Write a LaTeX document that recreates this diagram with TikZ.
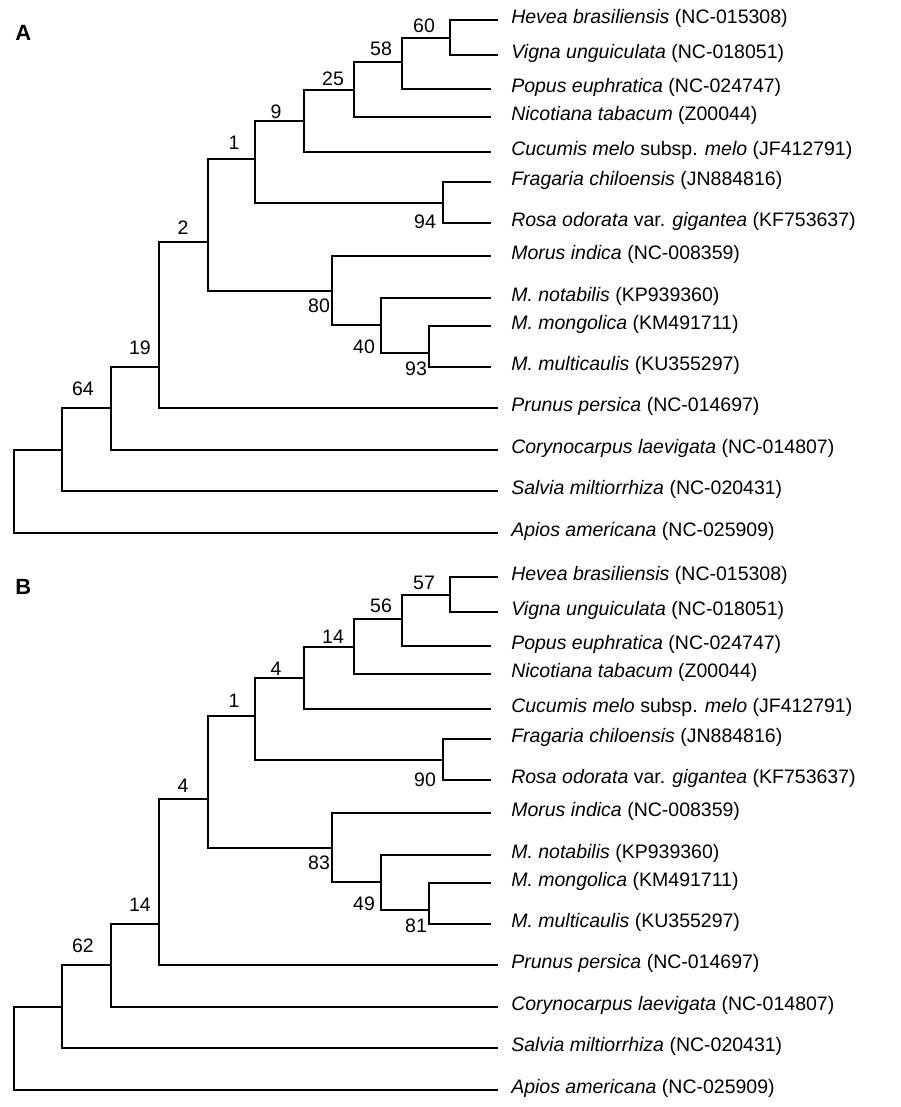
\documentclass[tikz,border=0pt]{standalone}
\usepackage{fontspec}
\setmainfont{Liberation Sans}
\begin{document}
\begin{tikzpicture}[x=1pt,y=-1pt,line width=2.6pt,
		panel/.style={anchor=base west,inner sep=0pt,font=\fontsize{22}{26}\selectfont\bfseries},
		tip/.style={anchor=base west,inner sep=0pt,font=\fontsize{19.5}{23}\selectfont},
		bs/.style={anchor=base,inner sep=0pt,font=\fontsize{19.5}{23}\selectfont}]
		\useasboundingbox (0,0) rectangle (900,1107);
		%==panel / shift / letter base / bootstrap values
		\foreach \p/\dy/\py/\la/\lb/\lc/\ld/\le/\lf/\lg/\lh/\li/\lj/\lk/\ll in {A/0/40.5/60/58/25/9/1/2/94/80/40/93/19/64,B/557/37/57/56/14/4/1/4/90/83/49/81/14/62}{
		\begin{scope}[yshift=-\dy pt]
		\node[panel] (p\p) at (14,\py) {\p};
		%==inner nodes
		\coordinate (rt\p) at (14,491);
		\coordinate (u1\p) at (62,450);
		\coordinate (u2\p) at (111,408);
		\coordinate (u3\p) at (159,367);
		\coordinate (u4\p) at (208,242);
		\coordinate (u5\p) at (255,159);
		\coordinate (u6\p) at (304,121);
		\coordinate (u7\p) at (354,90);
		\coordinate (u8\p) at (402,62);
		\coordinate (u9\p) at (450,38);
		\coordinate (u10\p) at (332,291);
		\coordinate (u11\p) at (443,203);
		\coordinate (u12\p) at (381,325);
		\coordinate (u13\p) at (429,353);
		%==tips
		\foreach \n/\lx/\ly/\t in {hev/498/20/{\textit{Hevea brasiliensis} (NC-015308)},
			vig/498/55/{\textit{Vigna unguiculata} (NC-018051)},
			pop/491/89/{\textit{Popus euphratica} (NC-024747)},
			nic/491/117/{\textit{Nicotiana tabacum} (Z00044)},
			cuc/491/152/{\textit{Cucumis melo} subsp. \textit{melo} (JF412791)},
			fra/491/182/{\textit{Fragaria chiloensis} (JN884816)},
			ros/491/223/{\textit{Rosa odorata} var. \textit{gigantea} (KF753637)},
			mor/491/256/{\textit{Morus indica} (NC-008359)},
			not/491/298/{\textit{M. notabilis} (KP939360)},
			mon/491/326/{\textit{M. mongolica} (KM491711)},
			mul/491/367/{\textit{M. multicaulis} (KU355297)},
			pru/498/408/{\textit{Prunus persica} (NC-014697)},
			cor/498/450/{\textit{Corynocarpus laevigata} (NC-014807)},
			sal/498/491/{\textit{Salvia miltiorrhiza} (NC-020431)},
			api/498/533/{\textit{Apios americana} (NC-025909)}}{
			\coordinate (\n\p) at (\lx,\ly);
			\node[tip] (t\n\p) at (510,\ly+3.3) {\t};
		}
		%==branches
		\foreach \a/\b in {rt/u1,rt/api,u1/u2,u1/sal,u2/u3,u2/cor,u3/u4,u3/pru,u4/u5,u4/u10,
			u5/u6,u5/u11,u6/u7,u6/cuc,u7/u8,u7/nic,u8/u9,u8/pop,u9/hev,u9/vig,
			u11/fra,u11/ros,u10/mor,u10/u12,u12/not,u12/u13,u13/mon,u13/mul}
			\draw (\a\p) |- (\b\p);
		%==bootstrap
		\foreach \bx/\by/\v in {424/32.3/\la,381/55.7/\lb,333/86/\lc,276/118.3/\ld,234/150/\le,183/235/\lf,
			425/229/\lg,319/312.3/\lh,364/353.3/\li,416/375/\lj,140/354/\lk,83/395/\ll}
			\node[bs] (b\bx\p) at (\bx,\by) {\v};
		\end{scope}}
	\end{tikzpicture}
\end{document}
